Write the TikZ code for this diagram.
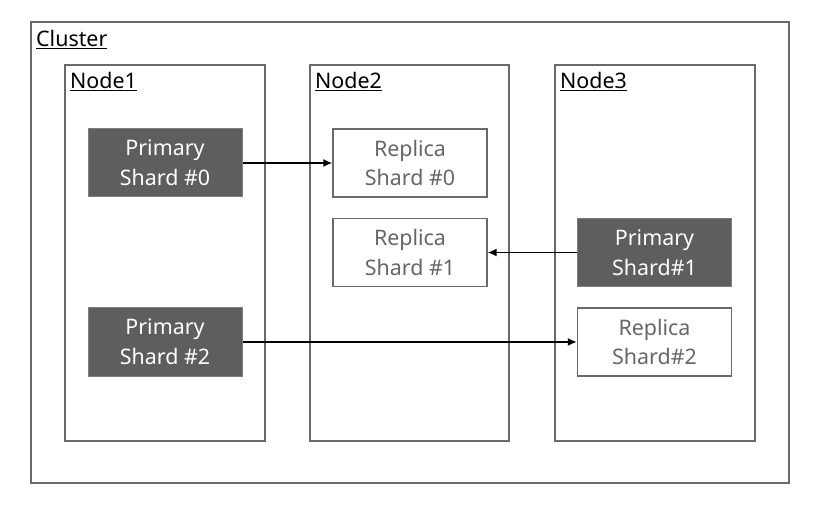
\documentclass[tikz,border=0pt]{standalone}
\usepackage{fontspec}
\setmainfont{Noto Sans}
\usetikzlibrary{arrows.meta}
\definecolor{edge}{HTML}{6A6A6A}
\definecolor{darkfill}{HTML}{5E5E5E}
\definecolor{repltext}{HTML}{666666}
\begin{document}
\begin{tikzpicture}[x=1bp,y=-1bp,
  frame/.style={draw=edge,line width=1.4bp},
  primary/.style={draw=darkfill!80!white,fill=darkfill,line width=1bp,text=white,minimum width=154bp,minimum height=68bp,align=center,inner sep=0pt,font=\fontsize{21.5}{30}\selectfont},
  replica/.style={draw=edge,fill=white,line width=1.4bp,text=repltext,minimum width=154bp,minimum height=68bp,align=center,inner sep=0pt,font=\fontsize{21.5}{30}\selectfont},
  title/.style={anchor=base west,inner sep=0pt,font=\fontsize{21.5}{24}\selectfont},
  link/.style={draw=black,line width=1.4bp,-{Latex[length=9bp,width=8bp]}}]
\useasboundingbox (0,0) rectangle (816,505);
\fill[white] (0,0) rectangle (816,505);
% cluster
\draw[frame] (31,22) rectangle (789,483);
\node[title] (clusterlbl) at (36,47) {\underline{Cluster}};
% nodes
\draw[frame] (65,65) rectangle (265,441);
\draw[frame] (310,65) rectangle (509,441);
\draw[frame] (555,65) rectangle (755,441);
\node[title] (n1lbl) at (70,89) {\underline{Node1}};
\node[title] (n2lbl) at (315,89) {\underline{Node2}};
\node[title] (n3lbl) at (560,89) {\underline{Node3}};
% shards
\node[primary] (p0) at (165,163) {Primary\\Shard \#0};
\node[replica] (r0) at (410,163) {Replica\\Shard \#0};
\node[replica] (r1) at (410,252.5) {Replica\\Shard \#1};
\node[primary] (p1) at (654.5,252.5) {Primary\\Shard\#1};
\node[primary] (p2) at (165,342) {Primary\\Shard \#2};
\node[replica] (r2) at (654.5,342) {Replica\\Shard\#2};
% links
\draw[link] (p0) -- (r0);
\draw[link] (p1) -- (r1);
\draw[link] (p2) -- (r2);
\end{tikzpicture}
\end{document}
